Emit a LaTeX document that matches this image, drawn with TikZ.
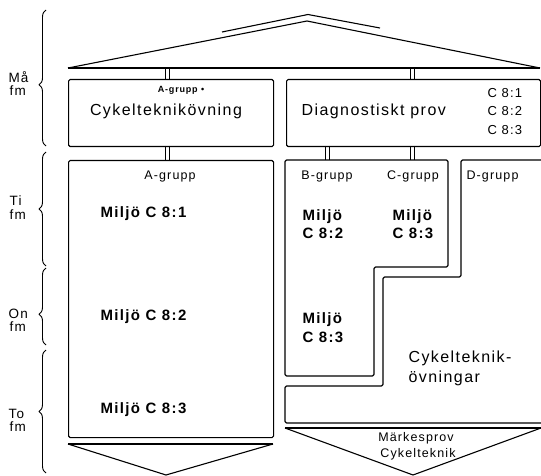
\documentclass[tikz,border=0pt]{standalone}
\usepackage{fontspec}
\setmainfont{Liberation Sans}[LetterSpace=9]
\usetikzlibrary{decorations.pathreplacing}
\newcommand\twinlink[2]{%
  \draw[linkline] ([xshift=-2pt]#1) -- ([xshift=-2pt]#1 |- #2);
  \draw[linkline] ([xshift=2pt]#1) -- ([xshift=2pt]#1 |- #2);}
\begin{document}
\begin{tikzpicture}[x=1pt,y=-1pt,line width=1.1pt,line join=round,
  boxnode/.style={draw,rounded corners=1.5pt,inner sep=0,anchor=north west},
  baseline line/.style={line width=1.7pt},
  linkline/.style={line width=0.9pt},
  bigtxt/.style={inner sep=0,font=\fontsize{16}{19}\selectfont},
  medtxt/.style={inner sep=0,font=\fontsize{13}{15}\selectfont},
  daytxt/.style={inner sep=0,font=\fontsize{13.5}{15}\selectfont,anchor=base west},
  grptxt/.style={inner sep=0,font=\fontsize{12.5}{14}\selectfont},
  miltxt/.style={inner sep=0,font=\bfseries\fontsize{15}{18}\selectfont,anchor=base west},
  tinytxt/.style={inner sep=0,font=\bfseries\fontsize{9}{10}\selectfont},
  daybrace/.style={decorate,decoration={brace,amplitude=7pt,aspect=#1},line width=0.9pt}]
\useasboundingbox (0,0) rectangle (541,476);

% roof
\coordinate (rl) at (68,68);
\coordinate (rr) at (540,68);
\coordinate (apex) at (307,21);
\draw (rl) -- (apex) -- (rr);
\draw[baseline line] (rl) -- (rr);
\coordinate (ua) at (222,32);
\coordinate (ub) at (308,14.5);
\coordinate (uc) at (380,28);
\draw (ua) -- (ub) -- (uc);

% Monday boxes
\node[boxnode,minimum width=205pt,minimum height=67pt] (cykbox) at (68,79) {};
\node[boxnode,minimum width=254pt,minimum height=67pt] (diagbox) at (286,79) {};
\coordinate (r1) at (167,68);
\coordinate (r2) at (412,68);
\twinlink{r1}{cykbox.north}
\twinlink{r2}{diagbox.north}

\node[tinytxt,anchor=base] (agtop) at (181,93) {A-grupp \textbullet};
\node[bigtxt,anchor=base] (cyktxt) at (166,116) {Cykelteknikövning};
\node[bigtxt,anchor=base west] (diagtxt) at (301,116) {Diagnostiskt prov};
\node[medtxt,anchor=base west] (c1) at (487,97.5) {C 8:1};
\node[medtxt,anchor=base west] (c2) at (487,116) {C 8:2};
\node[medtxt,anchor=base west] (c3) at (487,134.5) {C 8:3};

% A group box
\node[boxnode,minimum width=205pt,minimum height=277pt] (abox) at (68,160) {};
\coordinate (m1) at (167,146);
\coordinate (m2) at (327,146);
\coordinate (m3) at (412,146);
\coordinate (bctop) at (300,160);
\twinlink{m1}{abox.north}
\twinlink{m2}{bctop}
\twinlink{m3}{bctop}

% B/C region
\draw[rounded corners=1.5pt] (285,160) -- (448,160) -- (448,267) -- (374,267)
  -- (374,376) -- (285,376) -- cycle;
% D region
\draw[rounded corners=1.5pt] (541,160) -- (461,160) -- (461,277) -- (383,277)
  -- (383,386) -- (285,386) -- (285,423) -- (541,423);

% bottom triangles
\coordinate (lt1) at (68,444);
\coordinate (lt2) at (273,444);
\coordinate (lta) at (166,475);
\draw[baseline line] (lt1) -- (lt2);
\draw (lt1) -- (lta) -- (lt2);
\coordinate (rt1) at (285,428);
\coordinate (rt2) at (541,428);
\coordinate (rta) at (413,475);
\draw[baseline line] (rt1) -- (rt2);
\draw (rt1) -- (rta) -- (rt2);

% group texts
\node[grptxt,anchor=base] (ag) at (170,179) {A-grupp};
\node[grptxt,anchor=base] (bg) at (327,179) {B-grupp};
\node[grptxt,anchor=base] (cg) at (413,179) {C-grupp};
\node[grptxt,anchor=base west] (dg) at (466,179) {D-grupp};

\node[miltxt] (a1) at (100,217.5) {Miljö C 8:1};
\node[miltxt] (a2) at (100,320.5) {Miljö C 8:2};
\node[miltxt] (a3) at (100,413.5) {Miljö C 8:3};

\node[miltxt] (b1a) at (302,220.5) {Miljö};
\node[miltxt] (b1b) at (302,238.5) {C 8:2};
\node[miltxt] (c1a) at (392,220.5) {Miljö};
\node[miltxt] (c1b) at (392,238.5) {C 8:3};
\node[miltxt] (b2a) at (302,323.5) {Miljö};
\node[miltxt] (b2b) at (302,342) {C 8:3};

\node[bigtxt,anchor=base west] (dt1) at (408,362.5) {Cykelteknik-};
\node[bigtxt,anchor=base west] (dt2) at (408,382.5) {övningar};

\node[grptxt,anchor=base] (mp1) at (416,441.5) {Märkesprov};
\node[grptxt,anchor=base] (mp2) at (418,457) {Cykelteknik};

% days
\node[daytxt] (d1a) at (8,83) {Må};
\node[daytxt] (d1b) at (9,96) {fm};
\node[daytxt] (d2a) at (9,205) {Ti};
\node[daytxt] (d2b) at (9,219) {fm};
\node[daytxt] (d3a) at (8,318) {On};
\node[daytxt] (d3b) at (9,331) {fm};
\node[daytxt] (d4a) at (8,418) {To};
\node[daytxt] (d4b) at (9,431) {fm};

\coordinate (b1t) at (46,10);
\coordinate (b1b) at (46,146);
\coordinate (b2t) at (46,152);
\coordinate (b2b) at (46,266);
\coordinate (b3t) at (46,268);
\coordinate (b3b) at (46,345);
\coordinate (b4t) at (46,350);
\coordinate (b4b) at (46,473);
\draw[daybrace=0.45] (b1b) -- (b1t);
\draw[daybrace=0.5] (b2b) -- (b2t);
\draw[daybrace=0.4] (b3b) -- (b3t);
\draw[daybrace=0.5] (b4b) -- (b4t);
\end{tikzpicture}
\end{document}
